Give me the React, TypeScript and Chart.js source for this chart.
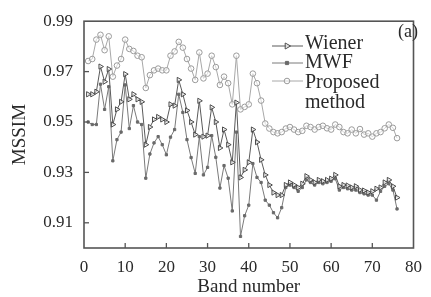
import React, { useEffect, useRef } from "react";
import { Chart, registerables } from "chart.js";

Chart.register(...registerables);

const bands = [
  1, 2, 3, 4, 5, 6, 7, 8, 9, 10, 11, 12, 13, 14, 15, 16, 17, 18, 19, 20,
  21, 22, 23, 24, 25, 26, 27, 28, 29, 30, 31, 32, 33, 34, 35, 36, 37, 38, 39, 40,
  41, 42, 43, 44, 45, 46, 47, 48, 49, 50, 51, 52, 53, 54, 55, 56, 57, 58, 59, 60,
  61, 62, 63, 64, 65, 66, 67, 68, 69, 70, 71, 72, 73, 74, 75, 76,
];

const wiener = [
  0.961, 0.961, 0.962, 0.972, 0.966, 0.971, 0.949, 0.955, 0.958, 0.969,
  0.959, 0.961, 0.959, 0.958, 0.941, 0.948, 0.951, 0.952, 0.951, 0.95,
  0.957, 0.9565, 0.9667, 0.961, 0.9546, 0.95, 0.945, 0.9584, 0.9442, 0.9446,
  0.9558, 0.95, 0.9397, 0.947, 0.941, 0.934, 0.9577, 0.928, 0.931, 0.934,
  0.947, 0.942, 0.935, 0.929, 0.925, 0.922, 0.921, 0.921, 0.925, 0.926,
  0.925, 0.924, 0.9255, 0.9285, 0.927, 0.926, 0.927, 0.9265, 0.927, 0.9275,
  0.929, 0.9245, 0.925, 0.9248, 0.924, 0.9245, 0.923, 0.9228, 0.922, 0.9225,
  0.9235, 0.924, 0.926, 0.927, 0.9245, 0.92,
];

const mwf = [
  0.95, 0.949, 0.949, 0.965, 0.955, 0.964, 0.9346, 0.943, 0.946, 0.9647,
  0.9474, 0.9565, 0.95, 0.949, 0.9277, 0.9373, 0.9417, 0.9442, 0.941, 0.937,
  0.944, 0.947, 0.961, 0.9538, 0.943, 0.9359, 0.9296, 0.9442, 0.929, 0.932,
  0.9446, 0.936, 0.9238, 0.9327, 0.9277, 0.9147, 0.946, 0.9046, 0.9128, 0.917,
  0.9335, 0.928, 0.926, 0.919, 0.917, 0.914, 0.912, 0.916, 0.924, 0.925,
  0.924, 0.9225, 0.924, 0.927, 0.926, 0.925, 0.926, 0.9255, 0.926, 0.9265,
  0.9275, 0.923, 0.924, 0.9235, 0.923, 0.923, 0.922, 0.9215, 0.921, 0.921,
  0.919, 0.9225, 0.9245, 0.9255, 0.923, 0.9155,
];

const proposed = [
  0.9742, 0.975, 0.9827, 0.9846, 0.9785, 0.984, 0.968, 0.9724, 0.975, 0.9827,
  0.979, 0.9782, 0.9763, 0.9757, 0.9635, 0.9686, 0.9705, 0.9712, 0.9705, 0.9705,
  0.9763, 0.978, 0.9818, 0.9795, 0.975, 0.9712, 0.9667, 0.9776, 0.9673, 0.9692,
  0.9763, 0.9718, 0.9647, 0.968, 0.9654, 0.957, 0.9763, 0.955, 0.956, 0.957,
  0.9692, 0.9654, 0.9585, 0.9494, 0.9474, 0.946, 0.9455, 0.946, 0.9474, 0.948,
  0.947, 0.946, 0.9465, 0.9485, 0.948, 0.947, 0.948, 0.9485, 0.9475, 0.947,
  0.949, 0.948, 0.946, 0.9455, 0.947, 0.9455, 0.9472, 0.945, 0.9455, 0.9442,
  0.9455, 0.946, 0.9475, 0.949, 0.9477, 0.9436,
];

const yTicks = [0.91, 0.93, 0.95, 0.97, 0.99];
const xTicks = [0, 10, 20, 30, 40, 50, 60, 70, 80];
const seriesNames = ["Wiener", "MWF", "Proposed method"];

const SERIF = "'Liberation Serif', 'DejaVu Serif', serif";
const TEXT = "#2a2a2a";
const AXIS = "#555555";

function drawMarker(ctx: CanvasRenderingContext2D, ds: any, x: number, y: number) {
  const r = ds.pointRadius;
  ctx.save();
  ctx.fillStyle = ds.pointBackgroundColor;
  ctx.strokeStyle = ds.pointBorderColor;
  ctx.lineWidth = ds.pointBorderWidth;
  ctx.beginPath();
  if (ds.pointStyle === "circle") {
    ctx.arc(x, y, r, 0, Math.PI * 2);
  } else if (ds.pointStyle === "rect") {
    ctx.rect(x - r, y - r, 2 * r, 2 * r);
  } else {
    // right-pointing triangle
    ctx.moveTo(x + r * 1.2, y);
    ctx.lineTo(x - r * 0.6, y - r);
    ctx.lineTo(x - r * 0.6, y + r);
    ctx.closePath();
  }
  ctx.fill();
  ctx.stroke();
  ctx.restore();
}

const framePlugin = {
  id: "frame",
  afterDraw(chart: any) {
    const { ctx, chartArea } = chart;
    const { left, right, top, bottom } = chartArea;
    ctx.save();
    ctx.strokeStyle = AXIS;
    ctx.lineWidth = 1.6;
    ctx.strokeRect(left, top, right - left, bottom - top);
    ctx.lineWidth = 1.3;
    const xs = chart.scales.x;
    const ys = chart.scales.y;
    xTicks.forEach((v) => {
      if (v === 0 || v === 80) return;
      const px = xs.getPixelForValue(v);
      ctx.beginPath();
      ctx.moveTo(px, bottom);
      ctx.lineTo(px, bottom - 5);
      ctx.stroke();
    });
    yTicks.forEach((v) => {
      if (v === 0.99) return;
      const py = ys.getPixelForValue(v);
      ctx.beginPath();
      ctx.moveTo(left, py);
      ctx.lineTo(left + 5, py);
      ctx.stroke();
    });
    ctx.restore();
  },
};

const legendPlugin = {
  id: "customLegend",
  afterDraw(chart: any) {
    const { ctx } = chart;
    const rows = [
      { line: 46, text: [{ t: seriesNames[0], y: 44 }] },
      { line: 63, text: [{ t: seriesNames[1], y: 63 }] },
      {
        line: 81,
        text: [
          { t: "Proposed", y: 83 },
          { t: "method", y: 103 },
        ],
      },
    ];
    ctx.save();
    rows.forEach((row, i) => {
      const ds = chart.data.datasets[i];
      ctx.strokeStyle = ds.borderColor;
      ctx.lineWidth = 1;
      ctx.beginPath();
      ctx.moveTo(272, row.line);
      ctx.lineTo(303, row.line);
      ctx.stroke();
      drawMarker(ctx, ds, 287, row.line);
      ctx.fillStyle = TEXT;
      ctx.font = `20px ${SERIF}`;
      ctx.textAlign = "left";
      ctx.textBaseline = "middle";
      row.text.forEach((tt) => ctx.fillText(tt.t, 305, tt.y));
    });
    ctx.fillStyle = TEXT;
    ctx.font = `18px ${SERIF}`;
    ctx.textAlign = "right";
    ctx.textBaseline = "middle";
    ctx.fillText("(a)", 418, 32);
    ctx.restore();
  },
};

export default function App() {
  const canvasRef = useRef<HTMLCanvasElement | null>(null);

  useEffect(() => {
    if (!canvasRef.current) return;
    const mk = (arr: number[]) => bands.map((b, i) => ({ x: b, y: arr[i] }));
    const chart = new Chart(canvasRef.current, {
      type: "line",
      data: {
        datasets: [
          {
            label: seriesNames[0],
            data: mk(wiener),
            borderColor: "#5a5a5a",
            borderWidth: 1,
            pointStyle: "triangle",
            rotation: 90,
            pointRadius: 3,
            pointBorderWidth: 1,
            pointBorderColor: "#4a4a4a",
            pointBackgroundColor: "rgba(255,255,255,0.6)",
            fill: false,
            tension: 0,
          },
          {
            label: seriesNames[1],
            data: mk(mwf),
            borderColor: "#7a7a7a",
            borderWidth: 1,
            pointStyle: "rect",
            pointRadius: 1.6,
            pointBorderWidth: 1,
            pointBorderColor: "#6a6a6a",
            pointBackgroundColor: "#6a6a6a",
            fill: false,
            tension: 0,
          },
          {
            label: seriesNames[2],
            data: mk(proposed),
            borderColor: "#a8a8a8",
            borderWidth: 1,
            pointStyle: "circle",
            pointRadius: 2.8,
            pointBorderWidth: 1,
            pointBorderColor: "#9a9a9a",
            pointBackgroundColor: "rgba(255,255,255,0.5)",
            fill: false,
            tension: 0,
          },
        ],
      },
      options: {
        animation: false,
        responsive: true,
        maintainAspectRatio: false,
        layout: { padding: { top: 16, right: 9, left: 0, bottom: 0 } },
        plugins: {
          legend: { display: false },
          tooltip: { enabled: false },
        },
        scales: {
          x: {
            type: "linear",
            min: 0,
            max: 80,
            afterBuildTicks: (s: any) => {
              s.ticks = xTicks.map((v) => ({ value: v }));
            },
            afterFit: (s: any) => {
              s.height = 49;
            },
            grid: { display: false, drawTicks: false },
            border: { display: false },
            ticks: {
              padding: 9,
              color: TEXT,
              font: { family: SERIF, size: 17 },
              maxRotation: 0,
            },
            title: {
              display: true,
              text: "Band number",
              color: TEXT,
              font: { family: SERIF, size: 19, lineHeight: 1 },
              padding: { top: 0, bottom: 0 },
            },
          },
          y: {
            type: "linear",
            min: 0.9,
            max: 0.99,
            afterBuildTicks: (s: any) => {
              s.ticks = yTicks.map((v) => ({ value: v }));
            },
            afterFit: (s: any) => {
              s.width = 84;
            },
            grid: { display: false, drawTicks: false },
            border: { display: false },
            ticks: {
              padding: 11,
              color: TEXT,
              font: { family: SERIF, size: 17 },
              callback: (v: any) => Number(v).toFixed(2),
            },
            title: {
              display: true,
              text: "MSSIM",
              color: TEXT,
              font: { family: SERIF, size: 19, lineHeight: 1 },
              padding: { top: 11, bottom: 0 },
            },
          },
        },
      },
      plugins: [framePlugin, legendPlugin],
    });
    return () => chart.destroy();
  }, []);

  return (
    <div style={{ position: "fixed", left: 0, top: 0, width: 431, height: 297, background: "#fff" }}>
      <canvas ref={canvasRef} />
    </div>
  );
}
